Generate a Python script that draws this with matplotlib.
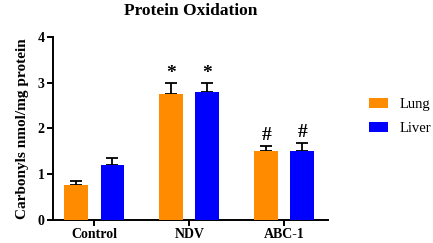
import numpy as np
import matplotlib.pyplot as plt

groups = ["Control", "NDV", "ABC-1"]
lung = [0.77, 2.75, 1.50]
lung_err = [0.07, 0.24, 0.12]
liver = [1.21, 2.80, 1.51]
liver_err = [0.14, 0.19, 0.18]
marks = ["", "*", "#"]

plt.rcParams['font.family'] = ['Liberation Serif', 'DejaVu Serif']

fig = plt.figure(figsize=(4.33, 2.43), dpi=100)
ax = fig.add_axes([0.122, 0.095, 0.635, 0.753])

x = np.arange(len(groups))
w = 0.25
off = 0.19

ax.bar(x - off, lung, w, color="#FF8C00", label="Lung", zorder=3)
ax.bar(x + off, liver, w, color="#0000FF", label="Liver", zorder=3)
ax.errorbar(x - off, lung, yerr=[np.zeros(3), lung_err], fmt="none",
            ecolor="black", elinewidth=1.3, capsize=4, capthick=1.3, zorder=2)
ax.errorbar(x + off, liver, yerr=[np.zeros(3), liver_err], fmt="none",
            ecolor="black", elinewidth=1.3, capsize=4, capthick=1.3, zorder=2)

for i, m in enumerate(marks):
    if m:
        ax.text(x[i] - off, lung[i] + lung_err[i] + 0.03, m, ha="center", va="bottom",
                fontsize=14, fontweight="bold")
        ax.text(x[i] + off, liver[i] + liver_err[i] + 0.03, m, ha="center", va="bottom",
                fontsize=14, fontweight="bold")

ax.set_xlim(-0.437, 2.458)
ax.set_ylim(0, 4)
ax.set_yticks([0, 1, 2, 3, 4])
ax.set_xticks(x)
ax.set_xticklabels(groups)
for lbl in ax.get_xticklabels() + ax.get_yticklabels():
    lbl.set_fontweight("bold")
    lbl.set_fontsize(10)

ax.spines["top"].set_visible(False)
ax.spines["right"].set_visible(False)
ax.spines["left"].set_linewidth(1.4)
ax.spines["bottom"].set_linewidth(1.4)
ax.tick_params(width=1.4, length=4, pad=2)

ax.set_ylabel("Carbonyls nmol/mg protein", fontsize=11, fontweight="bold", labelpad=6)
fig.text(0.44, 0.955, "Protein Oxidation", ha="center", va="center",
         fontsize=12.5, fontweight="bold")

fig.legend(loc="center left", bbox_to_anchor=(0.853, 0.52), frameon=False,
           fontsize=10.5, handlelength=1.25, handleheight=0.7, handletextpad=0.8,
           labelspacing=0.75, borderpad=0, borderaxespad=0)

plt.savefig("out.png", dpi=100)
